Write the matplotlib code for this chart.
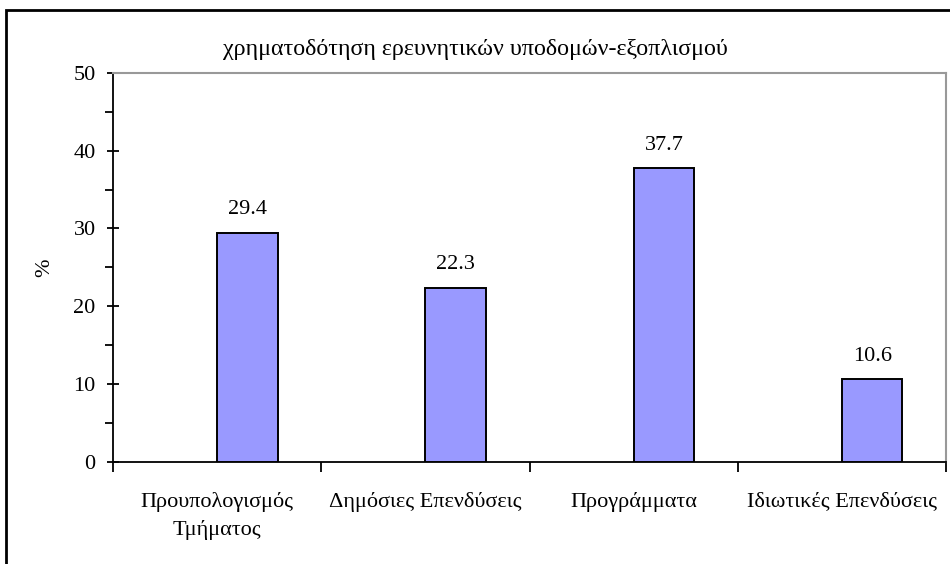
import matplotlib
matplotlib.use("Agg")
import matplotlib.pyplot as plt
from matplotlib.patches import Rectangle
from matplotlib.ticker import MultipleLocator
import numpy as np

plt.rcParams['font.family'] = ['Liberation Serif', 'DejaVu Serif']

# data
categories = ["Προυπολογισμός\nΤμήματος", "Δημόσιες Επενδύσεις",
              "Προγράμματα", "Ιδιωτικές Επενδύσεις"]
values = [29.4, 22.3, 37.7, 10.6]
title = "χρηματοδότηση ερευνητικών υποδομών-εξοπλισμού"

fig = plt.figure(figsize=(9.5, 5.64), dpi=100)
ax = fig.add_axes([0.119, 0.181, 0.877, 0.69])

x = np.arange(len(categories))
bars = ax.bar(x, values, width=0.29, align='edge', color='#9999FF',
              edgecolor='black', linewidth=1.4, zorder=3)
for b, v in zip(bars, values):
    ax.annotate(f"{v:.1f}", (b.get_x() + b.get_width() / 2, v),
                xytext=(0, 10), textcoords='offset points',
                ha='center', va='bottom', fontsize=16)

ax.set_xlim(-0.5, len(categories) - 0.5)
ax.set_ylim(0, 50)
ax.set_yticks(np.arange(0, 51, 10))
ax.yaxis.set_minor_locator(MultipleLocator(5))
ax.set_xticks(np.append(x - 0.5, len(categories) - 0.5), minor=True)
ax.set_xticks(x)
ax.set_xticklabels(categories, fontsize=16, linespacing=1.5)
ax.tick_params(axis='x', which='major', length=0, pad=22)
ax.tick_params(axis='x', which='minor', length=7, width=1.3, direction='out')
ax.tick_params(axis='y', which='major', length=9, width=1.3, direction='inout',
               labelsize=16, pad=8)
ax.tick_params(axis='y', which='minor', length=6, width=1.3, direction='out')
ax.set_ylabel("%", fontsize=16)
ax.yaxis.set_label_coords(-0.07, 0.5)

for s in ['left', 'bottom']:
    ax.spines[s].set_linewidth(1.3)
    ax.spines[s].set_color('black')
for s in ['top', 'right']:
    ax.spines[s].set_linewidth(1.5)
    ax.spines[s].set_color('#999999')

fig.text(0.5, 1 - 50 / 564, title, ha='center', va='center', fontsize=17.3)

# outer chart frame (extends past the image edge)
fig.patches.append(Rectangle((6 / 950, -0.2), 1.5, 1 - 10 / 564 + 0.2,
                             transform=fig.transFigure, fill=False,
                             edgecolor='black', linewidth=2))

fig.savefig("out.png", dpi=100)
